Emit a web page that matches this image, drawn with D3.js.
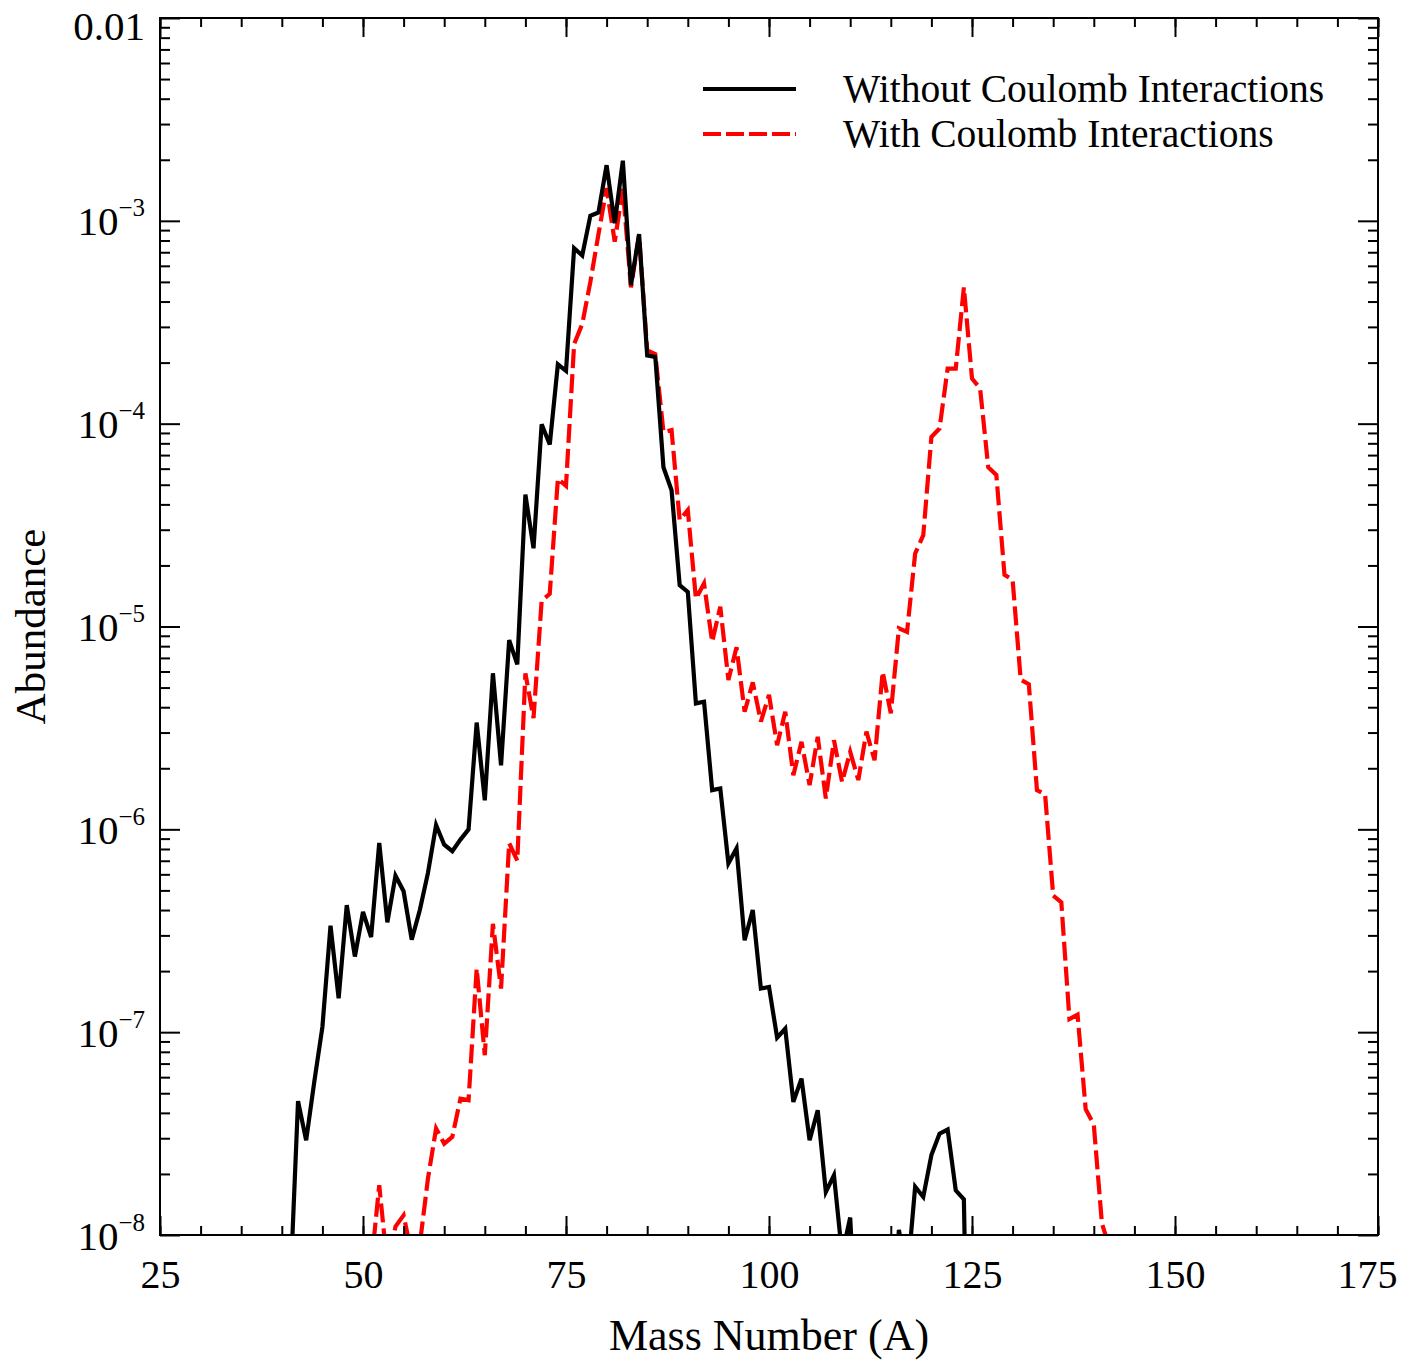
<!DOCTYPE html>
<html>
<head>
<meta charset="utf-8">
<script src="https://cdn.jsdelivr.net/npm/d3@7"></script>
<style>
  body { margin: 0; background: #fff; }
  svg { display: block; font-family: "Liberation Serif", "Times New Roman", serif; }
</style>
</head>
<body>
<div id="chart"></div>
<script>
// abundance per mass number
const massWithout = d3.range(41, 126);
const abundWithout = [
    5e-9, 4.57e-8, 2.93e-8, 5.7e-8, 1.06e-7, 3.35e-7, 1.47e-7, 4.23e-7, 2.36e-7, 3.92e-7,
    2.94e-7, 8.57e-7, 3.48e-7, 5.9e-7, 4.95e-7, 2.86e-7, 4.0e-7, 6.1e-7, 1.05e-6, 8.4e-7,
    7.8e-7, 8.9e-7, 1.0e-6, 3.36e-6, 1.39e-6, 5.88e-6, 2.07e-6, 8.57e-6, 6.5e-6, 4.47e-5,
    2.43e-5, 9.93e-5, 7.9e-5, 1.96e-4, 1.82e-4, 7.33e-4, 6.75e-4, 1.06e-3, 1.1e-3, 1.88e-3,
    9.73e-4, 1.98e-3, 4.82e-4, 8.6e-4, 2.17e-4, 2.13e-4, 6.1e-5, 4.7e-5, 1.6e-5, 1.48e-5,
    4.18e-6, 4.26e-6, 1.56e-6, 1.59e-6, 6.8e-7, 8.05e-7, 2.84e-7, 4.0e-7, 1.64e-7, 1.67e-7,
    9.4e-8, 1.04e-7, 4.53e-8, 5.9e-8, 2.93e-8, 4.12e-8, 1.63e-8, 1.97e-8, 8e-9, 1.22e-8,
    2e-9, 1e-10, 1e-10, 1e-10, 3e-9, 1.06e-8, 6e-9, 1.73e-8, 1.54e-8, 2.48e-8,
    3.16e-8, 3.31e-8, 1.66e-8, 1.5e-8, 1e-10
];
const massWith = d3.range(51, 143);
const abundWith = [
    7e-9, 1.76e-8, 7e-9, 1.1e-8, 1.25e-8, 8e-9, 9e-9, 1.9e-8, 3.35e-8, 2.82e-8,
    3.05e-8, 4.7e-8, 4.62e-8, 2.06e-7, 7.7e-8, 3.42e-7, 1.64e-7, 8.55e-7, 7.0e-7, 5.88e-6,
    3.53e-6, 1.34e-5, 1.45e-5, 5.36e-5, 4.94e-5, 2.47e-4, 3.1e-4, 5.0e-4, 8.6e-4, 1.45e-3,
    7.9e-4, 1.44e-3, 4.7e-4, 8.5e-4, 2.3e-4, 2.2e-4, 9.1e-5, 9.3e-5, 3.35e-5, 3.75e-5,
    1.37e-5, 1.63e-5, 8.4e-6, 1.25e-5, 5.45e-6, 7.9e-6, 3.8e-6, 5.3e-6, 3.4e-6, 4.6e-6,
    2.6e-6, 3.8e-6, 1.85e-6, 2.7e-6, 1.65e-6, 2.86e-6, 1.42e-6, 2.75e-6, 1.71e-6, 2.41e-6,
    1.75e-6, 3.03e-6, 2.19e-6, 5.98e-6, 3.73e-6, 9.8e-6, 9.4e-6, 2.29e-5, 2.82e-5, 8.6e-5,
    9.46e-5, 1.87e-4, 1.87e-4, 4.7e-4, 1.67e-4, 1.49e-4, 6.1e-5, 5.58e-5, 1.8e-5, 1.7e-5,
    5.46e-6, 5.19e-6, 1.56e-6, 1.49e-6, 4.71e-7, 4.37e-7, 1.16e-7, 1.22e-7, 4.17e-8, 3.5e-8,
    1.14e-8, 8.5e-9
];
const seriesNames = ["Without Coulomb Interactions", "With Coulomb Interactions"];
const xTicks = [25, 50, 75, 100, 125, 150, 175];
const xMinorTicks = d3.range(25, 176, 5);
const yTicks = [1e-8, 1e-7, 1e-6, 1e-5, 1e-4, 1e-3, 1e-2];
const yTickLabels = [["10", "\u22128"], ["10", "\u22127"], ["10", "\u22126"], ["10", "\u22125"],
    ["10", "\u22124"], ["10", "\u22123"], ["0.01", ""]];

const width = 1415, height = 1362;
const margin = { left: 160, right: 37, top: 18, bottom: 127 };
const innerW = width - margin.left - margin.right;
const innerH = height - margin.top - margin.bottom;

const svg = d3.select('#chart').append('svg')
    .attr('width', width)
    .attr('height', height);

const x = d3.scaleLinear().domain([25, 175]).range([margin.left, margin.left + innerW]);
const y = d3.scaleLog().domain([1e-8, 1e-2]).range([margin.top + innerH, margin.top]);

// minor log ticks 2..9 in each decade
const yMinorTicks = [];
yTicks.slice(0, -1).forEach(d => {
    for (let k = 2; k <= 9; k++) yMinorTicks.push(d * k);
});

svg.append('clipPath').attr('id', 'plotclip')
    .append('rect')
    .attr('x', margin.left).attr('y', margin.top)
    .attr('width', innerW).attr('height', innerH);

// data lines
const line = d3.line()
    .x(d => x(d[0]))
    .y(d => y(d[1]));

const plot = svg.append('g').attr('clip-path', 'url(#plotclip)');
plot.append('path')
    .attr('d', line(massWith.map((a, i) => [a, abundWith[i]])))
    .attr('fill', 'none')
    .attr('stroke', '#ff0000')
    .attr('stroke-width', 4.2)
    .attr('stroke-dasharray', '19,6')
    .attr('stroke-linejoin', 'miter');
plot.append('path')
    .attr('d', line(massWithout.map((a, i) => [a, abundWithout[i]])))
    .attr('fill', 'none')
    .attr('stroke', '#000')
    .attr('stroke-width', 4.2)
    .attr('stroke-linejoin', 'miter');

// axes, ticks pointing inward on all four sides
function styleAxis(g) {
    g.select('.domain').remove();
    g.selectAll('.tick line').attr('stroke', '#000').attr('stroke-width', 2);
}

svg.append('g').attr('transform', `translate(0,${margin.top + innerH})`)
    .call(d3.axisBottom(x).tickValues(xMinorTicks).tickSize(-9).tickFormat(''))
    .call(styleAxis);
const xAxisBottom = svg.append('g').attr('transform', `translate(0,${margin.top + innerH})`)
    .call(d3.axisBottom(x).tickValues(xTicks).tickSize(-19).tickPadding(0).tickFormat(d3.format('d')))
    .call(styleAxis);
xAxisBottom.selectAll('.tick text')
    .attr('y', 53)
    .attr('dy', null)
    .attr('font-size', 40)
    .attr('font-family', '"Liberation Serif", serif')
    .attr('fill', '#000');
// last label pulled in so it stays inside the figure
xAxisBottom.selectAll('.tick text')
    .filter(d => d === 175)
    .attr('x', -11);

svg.append('g').attr('transform', `translate(0,${margin.top})`)
    .call(d3.axisTop(x).tickValues(xMinorTicks).tickSize(-9).tickFormat(''))
    .call(styleAxis);
svg.append('g').attr('transform', `translate(0,${margin.top})`)
    .call(d3.axisTop(x).tickValues(xTicks).tickSize(-19).tickFormat(''))
    .call(styleAxis);

svg.append('g').attr('transform', `translate(${margin.left},0)`)
    .call(d3.axisLeft(y).tickValues(yMinorTicks).tickSize(-10).tickFormat(''))
    .call(styleAxis);
const yAxisLeft = svg.append('g').attr('transform', `translate(${margin.left},0)`)
    .call(d3.axisLeft(y).tickValues(yTicks).tickSize(-20).tickFormat(''))
    .call(styleAxis);

svg.append('g').attr('transform', `translate(${margin.left + innerW},0)`)
    .call(d3.axisRight(y).tickValues(yMinorTicks).tickSize(-10).tickFormat(''))
    .call(styleAxis);
svg.append('g').attr('transform', `translate(${margin.left + innerW},0)`)
    .call(d3.axisRight(y).tickValues(yTicks).tickSize(-20).tickFormat(''))
    .call(styleAxis);

// y tick labels with superscript exponents
yAxisLeft.selectAll('.tick text').each(function (d, i) {
    const t = d3.select(this)
        .attr('x', -15)
        .attr('dy', null)
        .attr('y', i === yTicks.length - 1 ? 21 : 14)
        .attr('text-anchor', 'end')
        .attr('font-size', 41)
        .attr('font-family', '"Liberation Serif", serif')
        .attr('fill', '#000');
    t.text(null);
    t.append('tspan').text(yTickLabels[i][0]);
    if (yTickLabels[i][1]) {
        t.append('tspan').attr('font-size', 25).attr('dy', -19).text(yTickLabels[i][1]);
    }
});

// frame
svg.append('rect')
    .attr('x', margin.left).attr('y', margin.top)
    .attr('width', innerW).attr('height', innerH)
    .attr('fill', 'none')
    .attr('stroke', '#000')
    .attr('stroke-width', 2);

// axis titles
svg.append('text')
    .attr('x', margin.left + innerW / 2)
    .attr('y', 1350)
    .attr('text-anchor', 'middle')
    .attr('font-size', 44)
    .text('Mass Number (A)');
svg.append('text')
    .attr('transform', `translate(45,${margin.top + innerH / 2}) rotate(-90)`)
    .attr('text-anchor', 'middle')
    .attr('font-size', 43)
    .text('Abundance');

// legend
const legend = svg.append('g');
const legendStyles = [
    { color: '#000', dash: null, y: 89 },
    { color: '#ff0000', dash: '18,5', y: 134 }
];
legendStyles.forEach((s, i) => {
    legend.append('line')
        .attr('x1', 703).attr('x2', 796)
        .attr('y1', s.y).attr('y2', s.y)
        .attr('stroke', s.color)
        .attr('stroke-width', 4)
        .attr('stroke-dasharray', s.dash);
    legend.append('text')
        .attr('x', 843)
        .attr('y', s.y + 13)
        .attr('font-size', 39.5)
        .text(seriesNames[i]);
});
</script>
</body>
</html>
